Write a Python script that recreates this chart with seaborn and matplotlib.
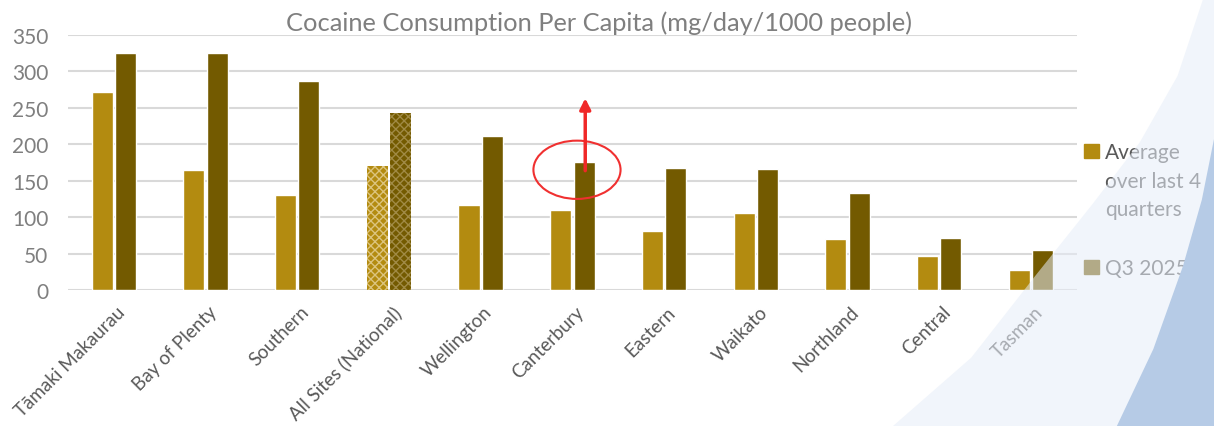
import numpy as np
import pandas as pd
import matplotlib
matplotlib.use("Agg")
import matplotlib.pyplot as plt
import seaborn as sns
from matplotlib.patches import Polygon, Ellipse, Patch
from matplotlib.text import Annotation
from matplotlib.transforms import ScaledTranslation

regions = [
    "Tāmaki Makaurau", "Bay of Plenty", "Southern", "All Sites (National)",
    "Wellington", "Canterbury", "Eastern", "Waikato", "Northland",
    "Central", "Tasman",
]
avg_last4 = [272, 165, 131, 170, 117, 110, 81, 105, 70, 46, 27]
q3_2025 = [325, 325, 287, 243, 212, 175, 168, 166, 133, 71, 55]
series = ["Average over last 4 quarters", "Q3 2025"]
yticks = [0, 50, 100, 150, 200, 250, 300, 350]

df = pd.DataFrame({
    "Region": regions * 2,
    "Value": avg_last4 + q3_2025,
    "Series": [series[0]] * len(regions) + [series[1]] * len(regions),
})

sns.set_theme(style="white")
plt.rcParams["font.family"] = ["Lato", "DejaVu Sans"]

c_avg = "#B38B10"
c_q3 = "#735A00"
txt = "#595959"

fig = plt.figure(figsize=(12.14, 4.27), dpi=100)
ax = fig.add_axes([0.056, 0.3185, 0.831, 0.5972])

sns.barplot(data=df, x="Region", y="Value", hue="Series", order=regions,
            hue_order=series, palette=[c_avg, c_q3], width=0.51, gap=0.1,
            saturation=1, legend=False, ax=ax)

# national bars get a checker pattern
nat = regions.index("All Sites (National)")
for cont, hc in zip(ax.containers, ["#DCC47E", "#A08A45"]):
    bar = cont.patches[nat]
    bar.set_hatch("xxxx")
    bar.set_edgecolor(hc)
    bar.set_linewidth(0)

ax.set_xlim(-0.5, len(regions) - 0.5)
ax.set_ylim(0, 350)
ax.set_yticks(yticks)
ax.yaxis.grid(True, color="#D9D9D9", linewidth=1.5)
ax.set_axisbelow(True)
sns.despine(ax=ax, left=True, bottom=True)
ax.set_xlabel("")
ax.set_ylabel("")
ax.tick_params(axis="y", length=0, pad=14, labelsize=15, labelcolor="#7F7F7F")
ax.tick_params(axis="x", length=0, pad=9, labelsize=13.5, labelcolor=txt)
shift = ScaledTranslation(2 / 72, 0, fig.dpi_scale_trans)
for lab in ax.get_xticklabels():
    lab.set_rotation(45)
    lab.set_ha("right")
    lab.set_rotation_mode("anchor")
    lab.set_transform(lab.get_transform() + shift)

fig.text(0.493, 0.945, "Cocaine Consumption Per Capita (mg/day/1000 people)",
         ha="center", va="center", fontsize=18.3, color="#7F7F7F")

# legend
handles = [Patch(color=c_avg), Patch(color=c_q3)]
leg = ax.legend(handles, ["Average", "Q3 2025"], loc="upper left",
                bbox_to_anchor=(0.997, 0.62), frameon=False, fontsize=15,
                labelcolor=txt, handlelength=0.7, handleheight=0.7,
                handletextpad=0.3, labelspacing=4.6, borderaxespad=0.1)
more = Annotation("over last 4\nquarters", xy=(0, 0), xycoords=leg.get_texts()[0],
                  xytext=(0, -6), textcoords="offset points", va="top", ha="left",
                  fontsize=15, color=txt, linespacing=1.55, zorder=2)
fig.add_artist(more)

# red callout on Canterbury
ci = regions.index("Canterbury")
ax.add_patch(Ellipse((ci + 0.05, q3_2025[ci] - 10), 0.95, 80, fill=False,
                     edgecolor="#F03030", linewidth=1.5, zorder=6))
ax.annotate("", xy=(ci + 0.14, q3_2025[ci] + 92), xytext=(ci + 0.14, q3_2025[ci] - 15),
            arrowprops=dict(arrowstyle="-|>", color="#F02828", lw=2.5,
                            mutation_scale=16), zorder=7)

# slide background shapes on the right
light = Polygon([(0.7356, 0), (0.80, 0.16), (0.8526, 0.351), (0.90, 0.52),
                 (0.939, 0.665), (0.97, 0.82), (0.991, 1.0), (1, 1), (1, 0)],
                closed=True, transform=fig.transFigure, facecolor="#E6EDF8",
                alpha=0.55, edgecolor="none", zorder=5)
dark = Polygon([(0.920, 0), (0.95, 0.18), (0.9745, 0.375), (0.99, 0.53),
                (1.0, 0.672), (1, 0)],
               closed=True, transform=fig.transFigure, facecolor="#B6CBE6",
               edgecolor="none", zorder=6)
fig.patches.extend([light, dark])

fig.savefig("out.png", dpi=100, facecolor="white")
